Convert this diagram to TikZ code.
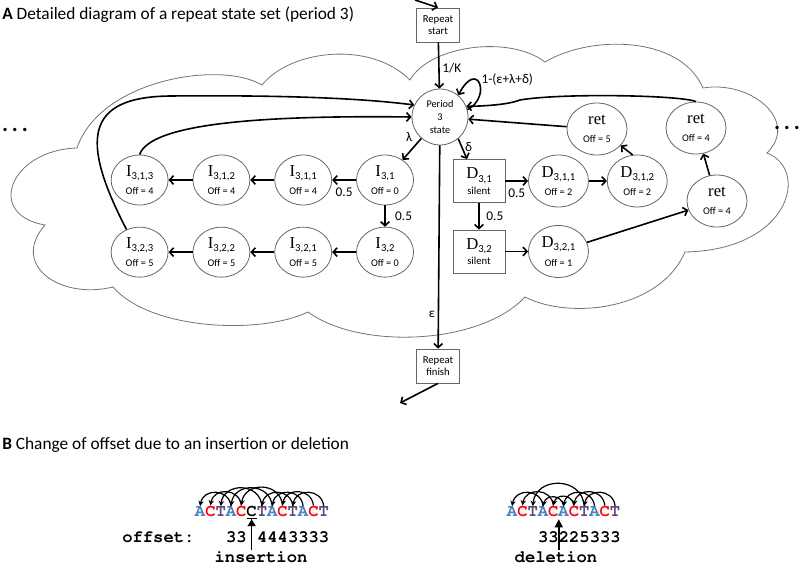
\documentclass[tikz,border=0pt]{standalone}
\usepackage[T1]{fontenc}
\usepackage{fontspec}
\setmainfont{Carlito}
\newfontfamily\timesfont{Liberation Serif}
\newcommand\courb{\fontencoding{T1}\fontfamily{pcr}\fontseries{b}\fontshape{n}\fontsize{12.9}{14}\selectfont}
\usetikzlibrary{positioning}
\usetikzlibrary{shapes.geometric}
\usetikzlibrary{arrows.meta}

\definecolor{baseA}{HTML}{4F81BD}
\definecolor{baseC}{HTML}{FF0000}
\definecolor{baseT}{HTML}{604A7B}

\newcommand\sname[2]{{\timesfont\fontsize{12.5}{12}\selectfont #1}\raisebox{-2.5pt}{\fontsize{8}{8}\selectfont #2}}

\tikzset{
  hid/.style={ellipse,draw=black!60,line width=0.6pt,fill=white,inner sep=0pt,
    minimum width=42.75pt,minimum height=37.5pt,align=center,font=\fontsize{7.7}{14}\selectfont},
  wide/.style={hid,minimum width=45pt,minimum height=39pt},
  sil/.style={rectangle,draw=black!60,line width=0.6pt,fill=white,inner sep=0pt,
    minimum width=39pt,minimum height=32.25pt,align=center,font=\fontsize{8}{11.5}\selectfont},
  term/.style={rectangle,draw=black!60,line width=0.6pt,fill=white,inner sep=0pt,
    minimum width=32.25pt,minimum height=25.5pt,align=center,font=\fontsize{8}{9}\selectfont},
  per/.style={circle,draw=black!60,line width=0.6pt,fill=white,inner sep=0pt,
    minimum size=42pt,align=center,font=\fontsize{7.7}{9.4}\selectfont},
  arr/.style={-{Straight Barb[length=3pt,width=6.5pt]},line width=1.2pt},
  lbl/.style={font=\fontsize{10}{12}\selectfont,inner sep=2pt},
  puff/.style={draw=black!55,line width=0.6pt},
  seq/.style={font=\courb,inner sep=0pt,anchor=base},
  mono/.style={font=\courb,inner sep=0pt},
  hop/.style={-{Stealth[length=4pt,width=4pt]},line width=0.9pt},
  pin/.style={line width=1.1pt},
  head/.style={font=\fontsize{13}{15}\selectfont,inner sep=0pt,anchor=west},
  dots/.style={font=\fontsize{17}{17}\selectfont\bfseries,inner sep=0pt}
}

\begin{document}
\begin{tikzpicture}[x=0.75pt,y=-0.75pt]
  \useasboundingbox (0,0) rectangle (800,564);

  % panel A
  \node[head] (titleA) at (2,15) {\textbf{A} Detailed diagram of a repeat state set (period 3)};

  % the cloud round the state set
  \draw[puff] (77,148) .. controls (100,80) and (220,60) .. (262,85)
    .. controls (290,50) and (370,40) .. (410,80)
    .. controls (430,45) and (510,35) .. (545,62)
    .. controls (590,35) and (680,35) .. (703,88)
    .. controls (750,80) and (800,120) .. (767,153)
    .. controls (810,170) and (790,250) .. (685,252)
    .. controls (660,310) and (570,320) .. (525,297)
    .. controls (480,345) and (360,350) .. (308,312)
    .. controls (260,335) and (150,330) .. (113,287)
    .. controls (60,300) and (10,265) .. (45,225)
    .. controls (-15,215) and (10,150) .. cycle;
  \node[dots] (dotsL) at (15,130) {.\,.\,.};
  \node[dots] (dotsR) at (787,128) {.\,.\,.};

  \node[term] (rstart) at (438,25) {Repeat\\start};
  \node[per] (period) at (440,117) {Period\\3\\state};
  \node[term] (rfinish) at (438,366) {Repeat\\finish};
  \coordinate (inend) at (415,0);
  \coordinate (outend) at (400,403);

  % insertion states
  \node[hid] (i31) at (385,180) {\sname{I}{3,1}\\Off = 0};
  \node[hid,left=18pt of i31] (i311) {\sname{I}{3,1,1}\\Off = 4};
  \node[hid,left=18pt of i311] (i312) {\sname{I}{3,1,2}\\Off = 4};
  \node[hid,left=18pt of i312] (i313) {\sname{I}{3,1,3}\\Off = 4};
  \node[hid,below=16pt of i31] (i32) {\sname{I}{3,2}\\Off = 0};
  \node[hid,left=18pt of i32] (i321) {\sname{I}{3,2,1}\\Off = 5};
  \node[hid,left=18pt of i321] (i322) {\sname{I}{3,2,2}\\Off = 5};
  \node[hid,left=18pt of i322] (i323) {\sname{I}{3,2,3}\\Off = 5};

  % deletion states
  \node[sil] (d31) at (479,181) {\sname{D}{3,1}\\silent};
  \node[wide,right=17pt of d31] (d311) {\sname{D}{3,1,1}\\Off = 2};
  \node[wide,right=13.5pt of d311] (d312) {\sname{D}{3,1,2}\\Off = 2};
  \node[sil,below=20pt of d31] (d32) {\sname{D}{3,2}\\silent};
  \node[wide,right=17pt of d32] (d321) {\sname{D}{3,2,1}\\Off = 1};
  \node[wide] (ret5) at (597,129) {{\timesfont\fontsize{12.5}{12}\selectfont ret}\\Off = 5};
  \node[wide] (ret4a) at (696,128) {{\timesfont\fontsize{12.5}{12}\selectfont ret}\\Off = 4};
  \node[wide] (ret4b) at (717,201) {{\timesfont\fontsize{12.5}{12}\selectfont ret}\\Off = 4};

  \draw[arr] (inend) -- (rstart.north);
  \draw[arr] (rstart) -- node[lbl,right,pos=0.55] {1/K} (period);
  \draw[arr] (period.15) .. controls (492,97) and (478,58) .. node[lbl,anchor=west,pos=0.5,inner sep=1pt,yshift=3pt] {1-(ε+λ+δ)} (period.50);
  \draw[arr] (period) -- node[lbl,above left,pos=0.3] {λ} (i31);
  \draw[arr] (period.-50) -- node[lbl,right,pos=0.4] {δ} ([xshift=-9pt]d31.north);
  \draw[arr] (period) -- node[lbl,left,pos=0.83] {ε} (rfinish);
  \draw[arr] (rfinish.south) -- (outend);

  \draw[arr] (i31) -- node[lbl,below=3pt] {0.5} (i311);
  \draw[arr] (i311) -- (i312);
  \draw[arr] (i312) -- (i313);
  \draw[arr] (i31) -- node[lbl,right=5pt] {0.5} (i32);
  \draw[arr] (i32) -- (i321);
  \draw[arr] (i321) -- (i322);
  \draw[arr] (i322) -- (i323);
  \draw[arr] (i313.north) .. controls (150,125) and (250,115) .. (period.west);
  \draw[arr] (i323.120) .. controls (80,140) and (85,97) .. (170,96)
    .. controls (280,95) and (360,98) .. (period.155);

  \draw[arr] (d31) -- node[lbl,below=3pt] {0.5} (d311);
  \draw[arr] (d311) -- (d312);
  \draw[arr] (d31) -- node[lbl,right=3pt] {0.5} (d32);
  \draw[arr] (d32) -- (d321);
  \draw[arr] (d312.100) -- (ret5.-35);
  \draw[arr] (d321) -- (ret4b);
  \draw[arr] (ret4b) -- (ret4a);
  \draw[arr] (ret5) -- (period);
  \draw[arr] (ret4a.north) .. controls (680,95) and (560,93) .. (520,100)
    .. controls (510,104) and (490,106) .. (period.22);

  % panel B
  \node[head] (titleB) at (2,445) {\textbf{B} Change of offset due to an insertion or deletion};

  \foreach \b/\c [count=\k from 0] in {A/baseA,C/baseC,T/baseT,A/baseA,C/baseC,C/black,T/baseT,
      A/baseA,C/baseC,T/baseT,A/baseA,C/baseC,T/baseT}
    \node[seq,text=\c] (ins\k) at ({200.15+10.3*\k},516) {\b};
  \foreach \i/\j in {3/0,4/1,6/2,7/3,8/4,9/6,10/7,11/8,12/9}
    \draw[hop] (ins\i.north) .. controls +(-2,{-6*(\i-\j)}) and +(3,{-6*(\i-\j)}) .. (ins\j.north);

  \node[mono,anchor=base west] (offlbl) at (122,542) {offset:};
  \node[mono,anchor=base west] (insoffA) at (225.9,542) {33};
  \node[mono,anchor=base west] (insoffB) at (256.8,542) {4443333};
  \node[mono,anchor=base] (inslbl) at (261,562) {insertion};
  \draw[pin,-{Triangle[width=6pt,length=5pt] Bar[width=7.5pt]}] (inslbl.north -| ins5.south) -- ([yshift=-1pt]ins5.south);

  \foreach \b/\c [count=\k from 0] in {A/baseA,C/baseC,T/baseT,A/baseA,C/baseC,A/baseA,C/baseC,
      T/baseT,A/baseA,C/baseC,T/baseT}
    \node[seq,text=\c] (del\k) at ({512.15+10.3*\k},516) {\b};
  \foreach \i/\j in {3/0,4/1,5/3,6/4,7/2,8/5,9/6,10/7}
    \draw[hop] (del\i.north) .. controls +(-2,{-6*(\i-\j)}) and +(3,{-6*(\i-\j)}) .. (del\j.north);

  \node[mono,anchor=base west] (deloff) at (537.9,542) {33225333};
  \node[mono,anchor=base] (dellbl) at (556,562) {deletion};
  \draw[pin,-{Triangle[width=6pt,length=6pt]}] (dellbl.north -| del4.south east) -- ([yshift=-2pt]del4.south east);
\end{tikzpicture}
\end{document}
